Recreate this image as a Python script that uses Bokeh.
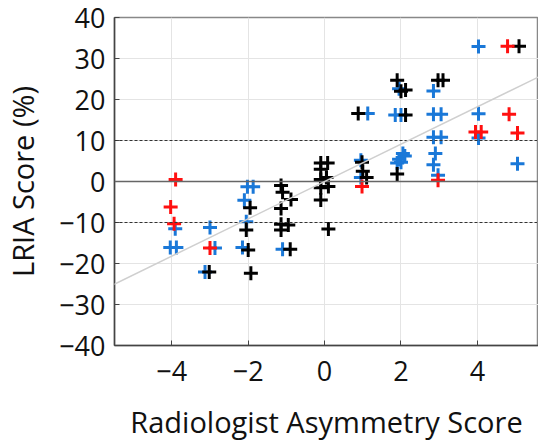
from bokeh.plotting import figure
from bokeh.models import Span, Slope, FixedTicker, Range1d
from bokeh.embed import file_html
from bokeh.resources import INLINE

# ---- data ----
red_x = [-3.90, -4.03, -3.94, -3.00, 0.98, 2.97, 3.95, 4.10, 4.79, 4.83, 5.05]
red_y = [0.5, -6.2, -10.3, -16.2, -1.2, 0.3, 12.1, 12.1, 33.0, 16.4, 11.8]

blue_x = [-3.91, -4.04, -3.88, -3.00, -2.87, -3.13,
          -2.02, -1.87, -2.10, -2.05, -2.15, -1.10,
          1.13, 0.95, 0.95,
          1.95, 1.85, 2.00, 2.05, 2.10, 1.90, 2.00, 1.95,
          2.85, 2.85, 3.05, 2.85, 3.05, 2.90, 2.85, 2.97,
          4.03, 4.03, 4.03, 5.05]
blue_y = [-11.5, -16.1, -16.1, -11.2, -16.2, -22.1,
          -1.3, -1.3, -4.6, -9.8, -16.1, -16.5,
          16.6, 5.2, 1.0,
          22.6, 16.2, 16.2, 6.8, 6.2, 4.5, 4.7, 5.4,
          22.1, 16.4, 16.4, 10.8, 10.8, 6.8, 4.1, 1.5,
          32.9, 16.5, 10.6, 4.3]

black_x = [-3.02, -1.95, -2.05, -2.00, -1.93,
           -1.14, -1.10, -0.88, -1.14, -1.14, -0.95, -1.14, -0.90,
           -0.10, 0.08, -0.10, 0.05, -0.10, 0.10, -0.10, -0.10, 0.10,
           0.88, 0.98, 1.00, 1.10,
           1.90, 2.00, 2.12, 2.12, 1.90,
           2.97, 3.10, 5.09]
black_y = [-22.1, -6.4, -11.8, -16.7, -22.4,
           -1.0, -2.6, -4.4, -6.6, -10.4, -10.6, -11.8, -16.5,
           4.5, 4.5, 3.0, 1.0, 0.5, -1.2, -1.5, -4.5, -11.6,
           16.6, 4.7, 2.5, 1.0,
           24.7, 22.0, 22.3, 16.2, 1.8,
           24.7, 24.7, 33.0]

fit_slope = 4.55
fit_intercept = 0.0

x_ticks = [-4, -2, 0, 2, 4]
y_ticks = [-40, -30, -20, -10, 0, 10, 20, 30, 40]
ref_levels = [-10, 10]

RED = "#ff1010"
BLUE = "#1a78d8"
BLACK = "#000000"
FONT = "Open Sans"


def minus(v):
    return str(v).replace("-", "\u2212")


p = figure(width=538, height=443, output_backend="svg", toolbar_location=None,
           x_range=Range1d(-5.5, 5.6), y_range=Range1d(-40, 40),
           min_border_left=110, min_border_top=17, min_border_bottom=95,
           min_border_right=0)

p.background_fill_color = "white"
p.border_fill_color = "white"
p.outline_line_color = "#888888"
p.outline_line_width = 1.5

# grid
p.xgrid.ticker = FixedTicker(ticks=x_ticks)
p.ygrid.ticker = FixedTicker(ticks=y_ticks)
p.grid.grid_line_color = "#e4e4e4"
p.grid.grid_line_width = 1

# axes
p.xaxis.ticker = FixedTicker(ticks=x_ticks)
p.yaxis.ticker = FixedTicker(ticks=y_ticks)
p.xaxis.major_label_overrides = {t: minus(t) for t in x_ticks}
p.yaxis.major_label_overrides = {t: minus(t) for t in y_ticks}
for ax in (p.xaxis, p.yaxis):
    ax.axis_line_color = "#444444"
    ax.axis_line_width = 1.5
    ax.major_tick_in = 5
    ax.major_tick_out = 0
    ax.major_tick_line_color = "#444444"
    ax.minor_tick_line_color = None
    ax.major_label_text_font = FONT
    ax.major_label_text_font_size = "27px"
    ax.major_label_text_color = "#111111"
    ax.axis_label_text_font = FONT
    ax.axis_label_text_font_size = "29px"
    ax.axis_label_text_font_style = "normal"
    ax.axis_label_text_color = "#111111"

p.xaxis.axis_label = "Radiologist Asymmetry Score"
p.yaxis.axis_label = "LRIA Score (%)"
p.xaxis.major_label_standoff = 15
p.xaxis.axis_label_standoff = 18
p.yaxis.major_label_standoff = 9
p.yaxis.axis_label_standoff = 14

# reference lines
p.add_layout(Span(location=0, dimension="width", line_color="#666666",
                  line_width=1.5))
for lv in ref_levels:
    p.add_layout(Span(location=lv, dimension="width", line_color="#333333",
                      line_width=1, line_dash="3 2"))

# fit line
p.add_layout(Slope(gradient=fit_slope, y_intercept=fit_intercept,
                   line_color="#cfcfcf", line_width=1.5))

# points
for xs, ys, col in ((blue_x, blue_y, BLUE), (black_x, black_y, BLACK),
                    (red_x, red_y, RED)):
    p.scatter(xs, ys, marker="cross", size=14, line_color=col, line_width=3)

open("out.html", "w").write(file_html(p, INLINE))
